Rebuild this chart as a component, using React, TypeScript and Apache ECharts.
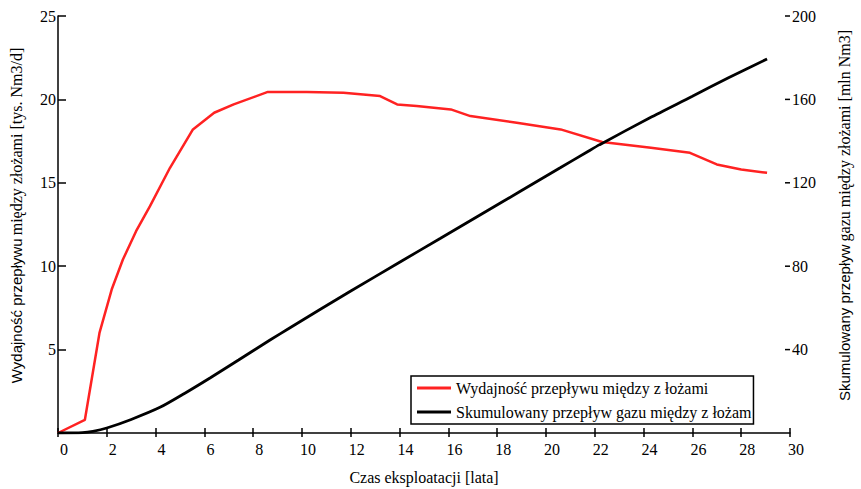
import React, { useEffect, useRef } from "react";
import * as echarts from "echarts";

const SERIF = "Liberation Serif";
const SANS = "Liberation Sans";

const xTicks = [0, 30, 2];
const leftTicks = [0, 25, 5];
const rightTicks = [0, 200, 40];

const redName = "Wydajność przepływu między z łożami";
const blackName = "Skumulowany przepływ gazu między z łożam";

const redX = [0, 1.1, 1.7, 2.2, 2.66, 3.2, 3.77, 4.59, 5.53, 6.4, 7.2, 8.6, 10.2, 11.7, 13.2, 13.9, 14.7, 16.1, 16.9, 18.8, 20.6, 22.3, 24.3, 25.9, 27.0, 28.0, 29.06];
const redY = [0, 0.78, 6.0, 8.6, 10.4, 12.1, 13.6, 15.9, 18.2, 19.2, 19.7, 20.45, 20.45, 20.4, 20.2, 19.7, 19.6, 19.4, 19.0, 18.6, 18.2, 17.45, 17.1, 16.8, 16.1, 15.8, 15.6];

const blackX = [0, 1, 1.43, 2, 3, 4.18, 5.2, 6.23, 7.4, 8.69, 9.51, 12, 14, 15.66, 17.4, 19, 20.6, 21.7, 22.2, 24.26, 26, 27.5, 29.06];
const blackY = [0, 0.2, 0.8, 2.4, 6.5, 12.3, 19.1, 26.4, 35, 44.6, 50.5, 68.1, 81.9, 93.3, 105.3, 116.3, 127.3, 134.9, 138.3, 151.2, 161.5, 170.5, 179.4];

export default function App() {
  const ref = useRef<HTMLDivElement>(null);
  useEffect(() => {
    if (!ref.current) return;
    const chart = echarts.init(ref.current, undefined, { renderer: "svg" });
    const redData = redX.map((x, i) => [x, redY[i]]);
    const blackData = blackX.map((x, i) => [x, blackY[i]]);
    const axisCol = "#000";
    chart.setOption({
      animation: false,
      backgroundColor: "#ffffff",
      textStyle: { fontFamily: SERIF },
      grid: { left: 58, right: 71, top: 16, bottom: 56, containLabel: false, outerBoundsMode: "none" },
      legend: {
        orient: "vertical",
        left: 411,
        top: 376,
        backgroundColor: "#fff",
        borderColor: "#000",
        borderWidth: 1.5,
        borderRadius: 0,
        padding: [4, 2, 4, 6],
        itemGap: 8,
        itemWidth: 34,
        itemHeight: 3,
        icon: "rect",
        textStyle: { fontFamily: SERIF, fontSize: 16, color: "#000", width: 322, overflow: "truncate" },
        data: [redName, blackName],
      },
      xAxis: [
        {
          type: "value",
          min: xTicks[0],
          max: xTicks[1],
          interval: xTicks[2],
          axisLine: { show: true, lineStyle: { color: axisCol, width: 1.5 } },
          axisTick: { show: true, length: 4, lineStyle: { color: axisCol, width: 1.5 } },
          axisLabel: { color: "#000", fontFamily: SERIF, fontSize: 16, margin: 8, padding: [0, 0, 0, 12] },
          splitLine: { show: false },
          name: "Czas eksploatacji [lata]",
          nameLocation: "middle",
          nameGap: 36,
          nameTextStyle: { color: "#000", fontFamily: SERIF, fontSize: 16 },
        },
        {
          type: "value",
          min: xTicks[0],
          max: xTicks[1],
          interval: xTicks[2],
          position: "bottom",
          axisLine: { show: false },
          axisTick: { show: true, inside: true, length: 5, lineStyle: { color: axisCol, width: 1.5 } },
          axisLabel: { show: false },
          splitLine: { show: false },
        },
      ],
      yAxis: [
        {
          type: "value",
          min: leftTicks[0],
          max: leftTicks[1],
          interval: leftTicks[2],
          position: "left",
          axisLine: { show: true, lineStyle: { color: axisCol, width: 1.5 } },
          axisTick: { show: true, inside: true, length: 8, lineStyle: { color: axisCol, width: 1.5 } },
          axisLabel: {
            color: "#000",
            fontFamily: SERIF,
            fontSize: 16,
            margin: 2,
            formatter: (v: number) => (v === 0 ? "" : String(v)),
          },
          splitLine: { show: false },
          name: "{a|Wydajność przepływu} {b|między złożami [tys. Nm3/d]}",
          nameLocation: "middle",
          nameGap: 34,
          nameTextStyle: {
            color: "#000",
            fontFamily: SERIF,
            padding: [0, 0, 0, 18],
            rich: {
              a: { fontFamily: SANS, fontSize: 15, color: "#000" },
              b: { fontFamily: SERIF, fontSize: 16, color: "#000" },
            },
          },
        },
        {
          type: "value",
          min: rightTicks[0],
          max: rightTicks[1],
          interval: rightTicks[2],
          position: "right",
          axisLine: { show: false },
          axisTick: { show: false },
          axisLabel: {
            show: true,
            color: "#000",
            fontFamily: SERIF,
            fontSize: 16,
            margin: -5,
            formatter: (v: number) => (v === 0 ? "" : "{t|}{v|" + v + "}"),
            rich: {
              t: { width: 5, height: 1.5, backgroundColor: "#000", verticalAlign: "middle" },
              v: { fontFamily: SERIF, fontSize: 16, color: "#000", padding: [0, 0, 0, 2] },
            },
          },
          splitLine: { show: false },
          name: "{a|Skumulowany przepływ} {b|gazu między złożami [mln Nm3]}",
          nameLocation: "middle",
          nameGap: 46,
          nameTextStyle: {
            color: "#000",
            fontFamily: SERIF,
            padding: [0, 0, 0, 18],
            rich: {
              a: { fontFamily: SANS, fontSize: 15, color: "#000" },
              b: { fontFamily: SERIF, fontSize: 16, color: "#000" },
            },
          },
        },
      ],
      series: [
        {
          name: redName,
          type: "line",
          xAxisIndex: 0,
          yAxisIndex: 0,
          data: redData,
          symbol: "none",
          lineStyle: { color: "#ff2222", width: 2.5 },
          itemStyle: { color: "#ff2222" },
          z: 3,
        },
        {
          name: blackName,
          type: "line",
          xAxisIndex: 0,
          yAxisIndex: 1,
          data: blackData,
          symbol: "none",
          smooth: 0.25,
          lineStyle: { color: "#000", width: 2.8 },
          itemStyle: { color: "#000" },
          z: 4,
        },
      ],
    });
    return () => chart.dispose();
  }, []);
  return (
    <div
      ref={ref}
      style={{ position: "absolute", left: 0, top: 0, width: 861, height: 489 }}
    />
  );
}
